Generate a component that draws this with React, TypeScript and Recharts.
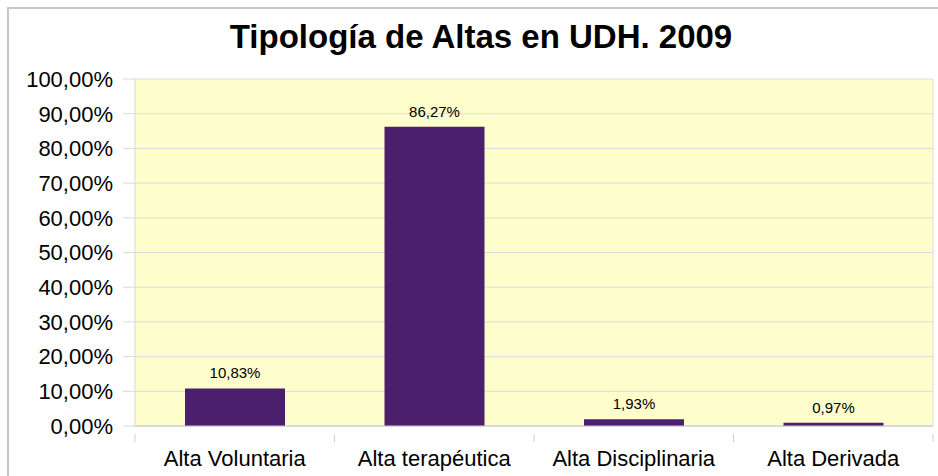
import {
  BarChart, Bar, XAxis, YAxis, CartesianGrid, LabelList,
} from 'recharts'

const categories = ['Alta Voluntaria', 'Alta terapéutica', 'Alta Disciplinaria', 'Alta Derivada']
const percentages = [10.83, 86.27, 1.93, 0.97]
const yTicks = [0, 10, 20, 30, 40, 50, 60, 70, 80, 90, 100]

const data = categories.map((name, i) => ({ name, value: percentages[i] }))

const W = 938
const H = 476
const MARGIN = { top: 79, right: 5, bottom: 0, left: 0 }
const Y_WIDTH = 135
const X_HEIGHT = 50
const BAR_COLOR = '#4B1F6C'
const FONT = '"Liberation Sans", Arial, sans-serif'

const fmt = (v: number) => v.toFixed(2).replace('.', ',') + '%'

// band width of one category, used to put ticks between categories (Excel style)
const BAND = (W - MARGIN.left - MARGIN.right - Y_WIDTH) / categories.length

function CategoryTick(props: any) {
  const { x, y, payload, index, visibleTicksCount } = props
  const last = index === visibleTicksCount - 1
  return (
    <g>
      <line x1={x - BAND / 2} x2={x - BAND / 2} y1={y} y2={y + 8} stroke="#D0D0D0" />
      {last && <line x1={x + BAND / 2} x2={x + BAND / 2} y1={y} y2={y + 8} stroke="#D0D0D0" />}
      <text x={x} y={y + 32} textAnchor="middle" fontSize={22} fill="#000" fontFamily={FONT}>
        {payload.value}
      </text>
    </g>
  )
}

export default function App() {
  return (
    <div style={{ position: 'absolute', left: 0, top: 0, width: W, height: H, background: '#fff', overflow: 'hidden' }}>
      <div style={{
        position: 'absolute', left: 7, top: 7, width: W, height: H,
        borderTop: '2px solid #C8C8C8', borderLeft: '2px solid #C8C8C8',
      }} />
      <div style={{
        position: 'absolute', left: 0, top: 18, width: 962, textAlign: 'center',
        fontFamily: FONT, fontWeight: 'bold', fontSize: 33, color: '#000',
      }}>
        Tipología de Altas en UDH. 2009
      </div>
      <div style={{ position: 'absolute', left: 0, top: 0 }}>
        <BarChart width={W} height={H} data={data} margin={MARGIN} barCategoryGap="25%">
          <CartesianGrid
            fill="#FEFDCC"
            stroke="#DCDCDC"
            verticalCoordinatesGenerator={({ offset }: any) => [offset.left + offset.width]}
          />
          <XAxis
            dataKey="name"
            height={X_HEIGHT}
            axisLine={{ stroke: '#C8C8C8' }}
            tickLine={false}
            tick={<CategoryTick />}
            interval={0}
          />
          <YAxis
            width={Y_WIDTH}
            domain={[0, 100]}
            ticks={yTicks}
            tickFormatter={fmt}
            tickSize={12}
            tickMargin={10}
            axisLine={{ stroke: '#D8D8D8' }}
            tickLine={{ stroke: '#D8D8D8' }}
            tick={{ fontSize: 22, fill: '#000', fontFamily: FONT }}
          />
          <Bar dataKey="value" fill={BAR_COLOR} barSize={100} isAnimationActive={false}>
            <LabelList
              dataKey="value"
              position="top"
              offset={10}
              formatter={(v: any) => fmt(Number(v))}
              style={{ fontSize: 15, fill: '#000', fontFamily: FONT }}
            />
          </Bar>
        </BarChart>
      </div>
    </div>
  )
}
